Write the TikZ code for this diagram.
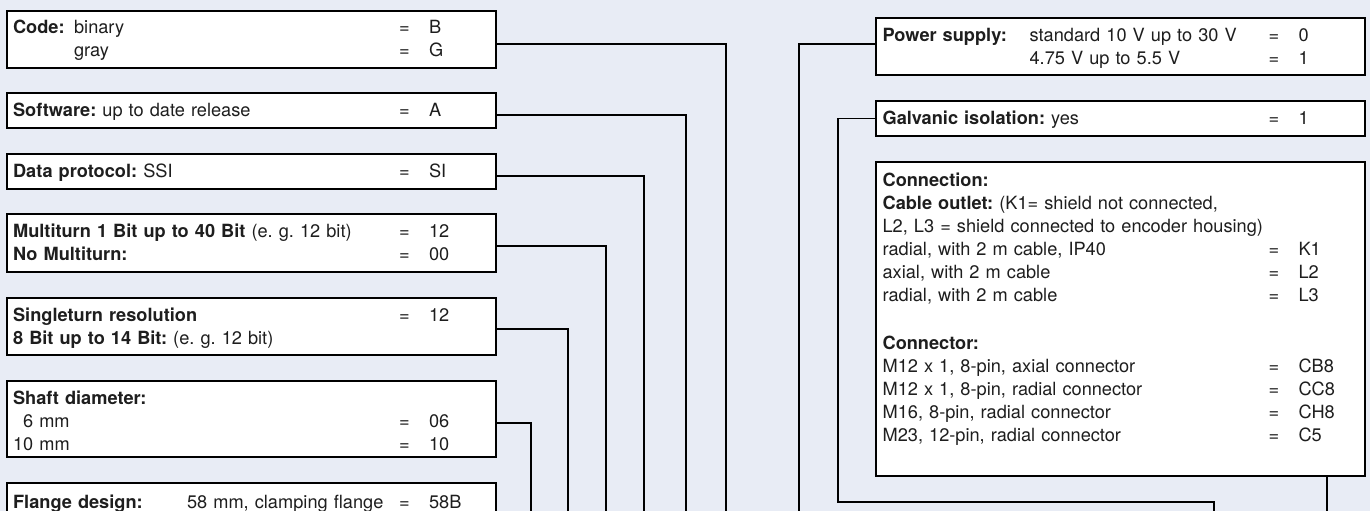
\documentclass[tikz,border=0pt]{standalone}
\usepackage{fontspec}
\setmainfont{TeX Gyre Heros}
\definecolor{BackClr}{RGB}{232,236,245}
\definecolor{TextClr}{RGB}{30,30,30}
\newcommand\optrow[2]{\makebox[386pt][l]{#1}\makebox[30pt][l]{=}#2}
\newcommand\optlbl[2]{\makebox[#1][l]{\bfseries #2}}

\begin{document}
\begin{tikzpicture}[x=1pt,y=-1pt,
  optbox/.style={draw,line width=2.2pt,fill=white,anchor=north west,
    inner xsep=6.5pt,inner ysep=0pt,text width=476pt,align=left,
    text=TextClr,font=\fontsize{18.2}{23}\selectfont\frenchspacing},
  wire/.style={line width=1.3pt}]
\fill[BackClr] (0,0) rectangle (1370,511);
\useasboundingbox (0,0) rectangle (1370,511);
\clip (0,0) rectangle (1370,511);

% left column
\node[optbox,text height=22pt,text depth=35pt] (code) at (5.5,10)
  {\optrow{\optlbl{61pt}{Code:}binary}{B}\\
   \optrow{\hspace*{61pt}gray}{G}};
\node[optbox,text height=23pt,text depth=12pt] (soft) at (5.5,92)
  {\optrow{\textbf{Software:} up to date release}{A}};
\node[optbox,text height=23pt,text depth=12pt] (proto) at (5.5,153)
  {\optrow{\textbf{Data protocol:} SSI}{SI}};
\node[optbox,text height=23pt,text depth=35pt] (multi) at (5.5,213)
  {\optrow{\textbf{Multiturn 1 Bit up to 40 Bit} (e. g. 12 bit)}{12}\\
   \optrow{\textbf{No Multiturn:}}{00}};
\node[optbox,text height=23pt,text depth=34pt] (single) at (5.5,297)
  {\optrow{\textbf{Singleturn resolution}}{12}\\
   \textbf{8 Bit up to 14 Bit:} (e. g. 12 bit)};
\node[optbox,text height=23pt,text depth=53pt] (shaft) at (5.5,380)
  {\textbf{Shaft diameter:}\\
   \optrow{\hspace*{10pt}6 mm}{06}\\
   \optrow{10 mm}{10}};
\node[optbox,text height=25pt,text depth=45pt] (flange) at (5.5,482)
  {\optrow{\optlbl{174pt}{Flange design:}58 mm, clamping flange}{58B}};

% right column
\node[optbox,text height=23pt,text depth=34pt] (power) at (875,17)
  {\optrow{\optlbl{147pt}{Power supply:}standard 10 V up to 30 V}{0}\\
   \optrow{\hspace*{147pt}4.75 V up to 5.5 V}{1}};
\node[optbox,text height=23pt,text depth=12pt] (galv) at (875,100)
  {\optrow{\textbf{Galvanic isolation:} yes}{1}};
\node[optbox,text height=24pt,text depth=290pt] (conn) at (875,161)
  {\textbf{Connection:}\\
   \textbf{Cable outlet:} (K1= shield not connected,\\
   L2, L3 = shield connected to encoder housing)\\
   \optrow{radial, with 2 m cable, IP40}{K1}\\
   \optrow{axial, with 2 m cable}{L2}\\
   \optrow{radial, with 2 m cable}{L3}\\[25pt]
   \textbf{Connector:}\\
   \optrow{M12 x 1, 8-pin, axial connector}{CB8}\\
   \optrow{M12 x 1, 8-pin, radial connector}{CC8}\\
   \optrow{M16, 8-pin, radial connector}{CH8}\\
   \optrow{M23, 12-pin, radial connector}{C5}};

% wires down to the bottom edge
\coordinate (wcode) at (726,515);
\coordinate (wsoft) at (686,515);
\coordinate (wproto) at (644,515);
\coordinate (wmulti) at (606,515);
\coordinate (wsingle) at (568,515);
\coordinate (wshaft) at (531,515);
\coordinate (wpower) at (799,515);
\coordinate (wgalv) at (838,502);
\coordinate (wgalvend) at (1214,515);
\coordinate (wconn) at (1327,515);

\draw[wire] ([yshift=-4.5pt]code.east) -| (wcode);
\draw[wire] ([yshift=-4.5pt]soft.east) -| (wsoft);
\draw[wire] ([yshift=-4.5pt]proto.east) -| (wproto);
\draw[wire] ([yshift=-3pt]multi.east) -| (wmulti);
\draw[wire] ([yshift=-2.5pt]single.east) -| (wsingle);
\draw[wire] ([yshift=-4pt]shaft.east) -| (wshaft);
\draw[wire] ([yshift=2.5pt]power.west) -| (wpower);
\draw[wire] (galv.west) -| (wgalv) -| (wgalvend);
\draw[wire] (wconn |- conn.south) -- (wconn);
\end{tikzpicture}
\end{document}
